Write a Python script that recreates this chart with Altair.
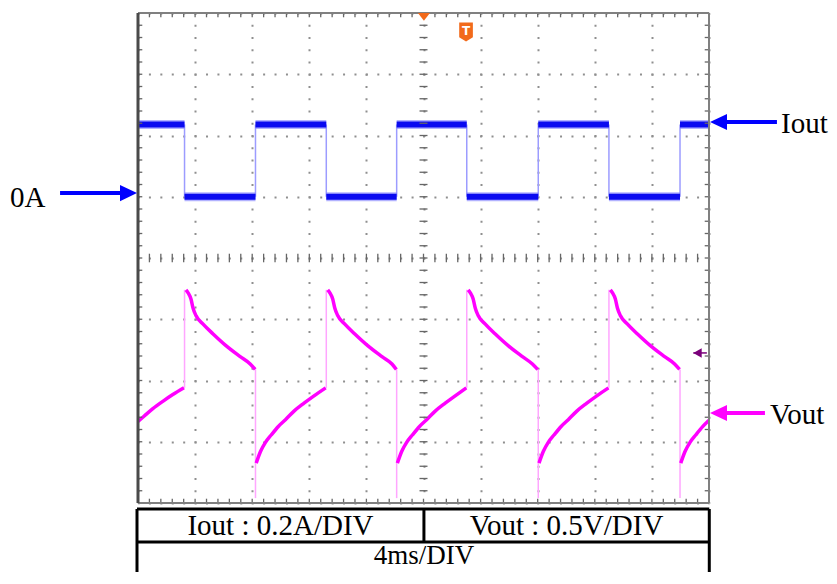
import altair as alt
import pandas as pd
import numpy as np

# ---------------- data ----------------
# time in ms (4 ms/DIV, 10 DIV), Iout in A (0.2 A/DIV, 0 A on the 5th division)
iout_edges_ms = [0.0, 3.26, 8.23, 13.19, 18.12, 23.03, 28.04, 32.99, 37.97, 40.0]
iout_levels_A = [0.236, 0.0, 0.236, 0.0, 0.236, 0.0, 0.236, 0.0, 0.236]

# Vout trace (0.5 V/DIV) given in screen divisions (0 = bottom, 8 = top)
vout_seg = (["r0"] * 6 + ["d1"] * 11 + ["r1"] * 10 + ["d2"] * 11 + ["r2"] * 10 +
            ["d3"] * 11 + ["r3"] * 10 + ["d4"] * 11 + ["r4"] * 6)
vout_t = [0.0, 0.44, 1.04, 1.74, 2.44, 3.22,
          3.36, 3.51, 3.71, 3.86, 4.06, 4.56, 5.26, 6.16, 7.16, 7.86, 8.21,
          8.28, 8.58, 8.93, 9.33, 9.83, 10.33, 10.93, 11.63, 12.33, 13.15,
          13.29, 13.44, 13.64, 13.79, 13.99, 14.49, 15.19, 16.09, 17.09, 17.79, 18.10,
          18.17, 18.47, 18.82, 19.22, 19.72, 20.22, 20.82, 21.52, 22.22, 23.00,
          23.13, 23.28, 23.48, 23.63, 23.83, 24.33, 25.03, 25.93, 26.93, 27.63, 28.00,
          28.09, 28.39, 28.74, 29.14, 29.64, 30.14, 30.74, 31.44, 32.14, 32.96,
          33.09, 33.24, 33.44, 33.59, 33.79, 34.29, 34.99, 35.89, 36.89, 37.59, 37.94,
          38.02, 38.32, 38.67, 39.07, 39.57, 40.0]
vout_div = [1.33, 1.42, 1.54, 1.66, 1.77, 1.88,
            3.48, 3.43, 3.33, 3.18, 3.06, 2.92, 2.76, 2.57, 2.39, 2.27, 2.18,
            0.65, 0.84, 0.99, 1.11, 1.25, 1.36, 1.50, 1.63, 1.75, 1.88,
            3.48, 3.43, 3.33, 3.18, 3.06, 2.92, 2.76, 2.57, 2.39, 2.27, 2.18,
            0.65, 0.84, 0.99, 1.11, 1.25, 1.36, 1.50, 1.63, 1.75, 1.88,
            3.48, 3.43, 3.33, 3.18, 3.06, 2.92, 2.76, 2.57, 2.39, 2.27, 2.18,
            0.65, 0.84, 0.99, 1.11, 1.25, 1.36, 1.50, 1.63, 1.75, 1.88,
            3.48, 3.43, 3.33, 3.18, 3.06, 2.92, 2.76, 2.57, 2.39, 2.27, 2.18,
            0.65, 0.84, 0.99, 1.11, 1.25, 1.35]
# fast edges of Vout (thin vertical lines): time, from, to (divisions)
vout_jump_t = [3.26, 8.23, 13.19, 18.12, 23.03, 28.04, 32.99, 37.97]
vout_jump_lo = [1.88, 0.08, 1.88, 0.08, 1.88, 0.08, 1.88, 0.08]
vout_jump_hi = [3.48, 2.18, 3.48, 2.18, 3.48, 2.18, 3.48, 2.18]

# texts
table_labels = ["Iout : 0.2A/DIV", "Vout : 0.5V/DIV", "4ms/DIV"]
side_labels = ["0A", "Iout", "Vout"]

# ---------------- scales / axes ----------------
xs = alt.Scale(domain=[0, 40], nice=False, zero=False)
ys = alt.Scale(domain=[0, 8], nice=False, zero=False)
ax_x = alt.Axis(values=list(range(0, 41, 4)), grid=True, labels=False, ticks=False,
                domain=False, title=None, gridColor="#8f8f8f", gridWidth=2,
                gridDash=[2, 10.25], gridDashOffset=1)
ax_y = alt.Axis(values=list(range(0, 9)), grid=True, labels=False, ticks=False,
                domain=False, title=None, gridColor="#8f8f8f", gridWidth=2,
                gridDash=[2, 9.42], gridDashOffset=1)


def X(f):
    return alt.X(f, type="quantitative", scale=xs, axis=ax_x)


def Y(f):
    return alt.Y(f, type="quantitative", scale=ys, axis=ax_y)


def a2div(a):
    return 5 + a / 0.2


# ---------------- Iout ----------------
iout_h = pd.DataFrame({
    "t0": iout_edges_ms[:-1], "t1": iout_edges_ms[1:],
    "y": [a2div(a) for a in iout_levels_A]})
iout_v = pd.DataFrame({
    "t": iout_edges_ms[1:-1],
    "lo": [a2div(min(iout_levels_A[i], iout_levels_A[i + 1])) for i in range(len(iout_levels_A) - 1)],
    "hi": [a2div(max(iout_levels_A[i], iout_levels_A[i + 1])) for i in range(len(iout_levels_A) - 1)]})

iout_thin = alt.Chart(iout_v).mark_rule(color="#9c9cff", strokeWidth=1.5).encode(
    x=X("t"), y=Y("lo"), y2=alt.Y2("hi"))
iout_band_glow = alt.Chart(iout_h).mark_rule(color="#7f7fff", strokeWidth=9, opacity=0.6).encode(
    x=X("t0"), x2=alt.X2("t1"), y=Y("y"))
iout_band = alt.Chart(iout_h).mark_rule(color="#0a0af0", strokeWidth=6).encode(
    x=X("t0"), x2=alt.X2("t1"), y=Y("y"))

# ---------------- Vout ----------------
vout_df = pd.DataFrame({"seg": vout_seg, "t": vout_t, "v": vout_div})
vjump = pd.DataFrame({"t": vout_jump_t, "lo": vout_jump_lo, "hi": vout_jump_hi})
vout_thin = alt.Chart(vjump).mark_rule(color="#ffa6ff", strokeWidth=1.5).encode(
    x=X("t"), y=Y("lo"), y2=alt.Y2("hi"))
vout_line = alt.Chart(vout_df).mark_line(color="#ff00ff", strokeWidth=3.5,
                                         interpolate="monotone").encode(
    x=X("t"), y=Y("v"), detail="seg:N", order="t:Q")

# ---------------- frame & graticule ticks ----------------
xt = np.round(np.arange(0, 40.001, 0.8), 3)
yt = np.round(np.arange(0, 8.001, 0.2), 3)
rows = []
for v in xt:
    rows.append((v, v, 8.0, 7.93))     # top edge
    rows.append((v, v, 0.0, 0.07))     # bottom edge
    rows.append((v, v, 3.93, 4.07))    # centre horizontal
for v in yt:
    rows.append((0.0, 0.3, v, v))      # left edge
    rows.append((40.0, 39.7, v, v))    # right edge
    rows.append((19.72, 20.28, v, v))  # centre vertical
ticks_df = pd.DataFrame(rows, columns=["x", "x2", "y", "y2"])
ticks = alt.Chart(ticks_df).mark_rule(color="#666666", strokeWidth=1.3).encode(
    x=X("x"), x2=alt.X2("x2"), y=Y("y"), y2=alt.Y2("y2"))

frame_df = pd.DataFrame({"x": [0, 40, 0], "x2": [40, 40, 40], "y": [8, 0, 0], "y2": [8, 8, 0]})
frame = alt.Chart(frame_df).mark_rule(color="#808080", strokeWidth=2).encode(
    x=X("x"), x2=alt.X2("x2"), y=Y("y"), y2=alt.Y2("y2"))
left_df = pd.DataFrame({"x": [0], "y": [0], "y2": [8]})
left_edge = alt.Chart(left_df).mark_rule(color="#4a4a4a", strokeWidth=3).encode(
    x=X("x"), y=Y("y"), y2=alt.Y2("y2"))

# ---------------- scope markers ----------------
trig_df = pd.DataFrame({"x": [20.03], "y": [8.0]})
trig = alt.Chart(trig_df).mark_point(shape="M-1,0 L1,0 L0,1.3 Z", filled=True, size=144,
                                     color="#f26a1b", opacity=1, strokeWidth=0).encode(
    x=X("x"), y=Y("y"))
tmark_df = pd.DataFrame({"x": [22.98], "y": [7.69], "label": ["T"]})
tshield = alt.Chart(tmark_df).mark_point(
    shape="M-0.72,-1 L0.72,-1 L0.72,0.55 L0,1 L-0.72,0.55 Z", filled=True, size=361,
    color="#f26a1b", opacity=1, strokeWidth=0).encode(x=X("x"), y=Y("y"))
ttext = alt.Chart(tmark_df).mark_text(color="white", fontSize=12, fontWeight="bold",
                                      font="DejaVu Sans", baseline="middle", dy=-1).encode(
    x=X("x"), y=Y("y"), text="label:N")
pm_df = pd.DataFrame({"x": [38.9], "x2": [39.85], "y": [2.45]})
pmark = alt.Chart(pm_df).mark_point(shape="M0,0 L1.6,-0.9 L1.6,0.9 Z", filled=True, size=110,
                                    color="#7a007a", opacity=1, strokeWidth=0).encode(
    x=X("x"), y=Y("y"))
pline = alt.Chart(pm_df).mark_rule(color="#7a007a", strokeWidth=1.5).encode(
    x=X("x"), x2=alt.X2("x2"), y=Y("y"))

# ---------------- annotations ----------------
arrow_df = pd.DataFrame({
    "x": [-5.46, 40.9, 40.9], "x2": [-1.0, 44.76, 43.92], "y": [5.06, 6.22, 1.47],
    "c": ["#0000ff", "#0000ff", "#ff00ff"]})
shafts = alt.Chart(arrow_df).mark_rule(strokeWidth=4).encode(
    x=X("x"), x2=alt.X2("x2"), y=Y("y"), color=alt.Color("c:N", scale=None))
head_r = alt.Chart(pd.DataFrame({"x": [-0.07], "y": [5.06]})).mark_point(
    shape="M0,0 L-2,-0.95 L-2,0.95 Z", filled=True, size=289, color="#0000ff",
    opacity=1, strokeWidth=0).encode(x=X("x"), y=Y("y"))
head_l = alt.Chart(pd.DataFrame({"x": [40.07, 40.07], "y": [6.22, 1.47],
                                 "c": ["#0000ff", "#ff00ff"]})).mark_point(
    shape="M0,0 L2,-0.95 L2,0.95 Z", filled=True, size=289, opacity=1, strokeWidth=0).encode(
    x=X("x"), y=Y("y"), color=alt.Color("c:N", scale=None))
side_df = pd.DataFrame({"x": [-8.97, 45.05, 44.27], "y": [4.833, 6.036, 1.29], "label": side_labels})
side_text = alt.Chart(side_df).mark_text(font="Liberation Serif", fontSize=29, align="left",
                                         baseline="alphabetic", color="black").encode(
    x=X("x"), y=Y("y"), text="label:N")

# ---------------- table ----------------
tb_df = pd.DataFrame({
    "x": [-0.07, -0.07, -0.07, 40.02, 20.03],
    "x2": [40.02, 40.02, -0.07, 40.02, 20.03],
    "y": [-0.098, -0.637, -0.098, -0.098, -0.098],
    "y2": [-0.098, -0.637, -1.7, -1.7, -0.637]})
table_lines = alt.Chart(tb_df).mark_rule(color="black", strokeWidth=3).encode(
    x=X("x"), x2=alt.X2("x2"), y=Y("y"), y2=alt.Y2("y2"))
tt_df = pd.DataFrame({"x": [9.98, 30.02], "y": [-0.522, -0.522], "label": table_labels[:2]})
table_text = alt.Chart(tt_df).mark_text(font="Liberation Serif", fontSize=29, align="center",
                                        baseline="alphabetic", color="black").encode(
    x=X("x"), y=Y("y"), text="label:N")
tt2_df = pd.DataFrame({"x": [20.03], "y": [-0.996], "label": table_labels[2:]})
table_text2 = alt.Chart(tt2_df).mark_text(font="Liberation Serif", fontSize=27, align="center",
                                          baseline="alphabetic", color="black").encode(
    x=X("x"), y=Y("y"), text="label:N")

chart = alt.layer(
    iout_thin, iout_band_glow, iout_band, vout_thin, vout_line,
    ticks, frame, left_edge, trig, tshield, ttext, pmark, pline,
    shafts, head_r, head_l, side_text, table_lines, table_text, table_text2
).properties(
    width=571, height=490,
    padding={"left": 130, "top": 5, "right": 120, "bottom": 69},
    autosize=alt.AutoSizeParams(type="none"),
    background="white",
).configure_view(stroke=None)

chart.save("out.html", embed_options={"renderer": "svg", "actions": False})
